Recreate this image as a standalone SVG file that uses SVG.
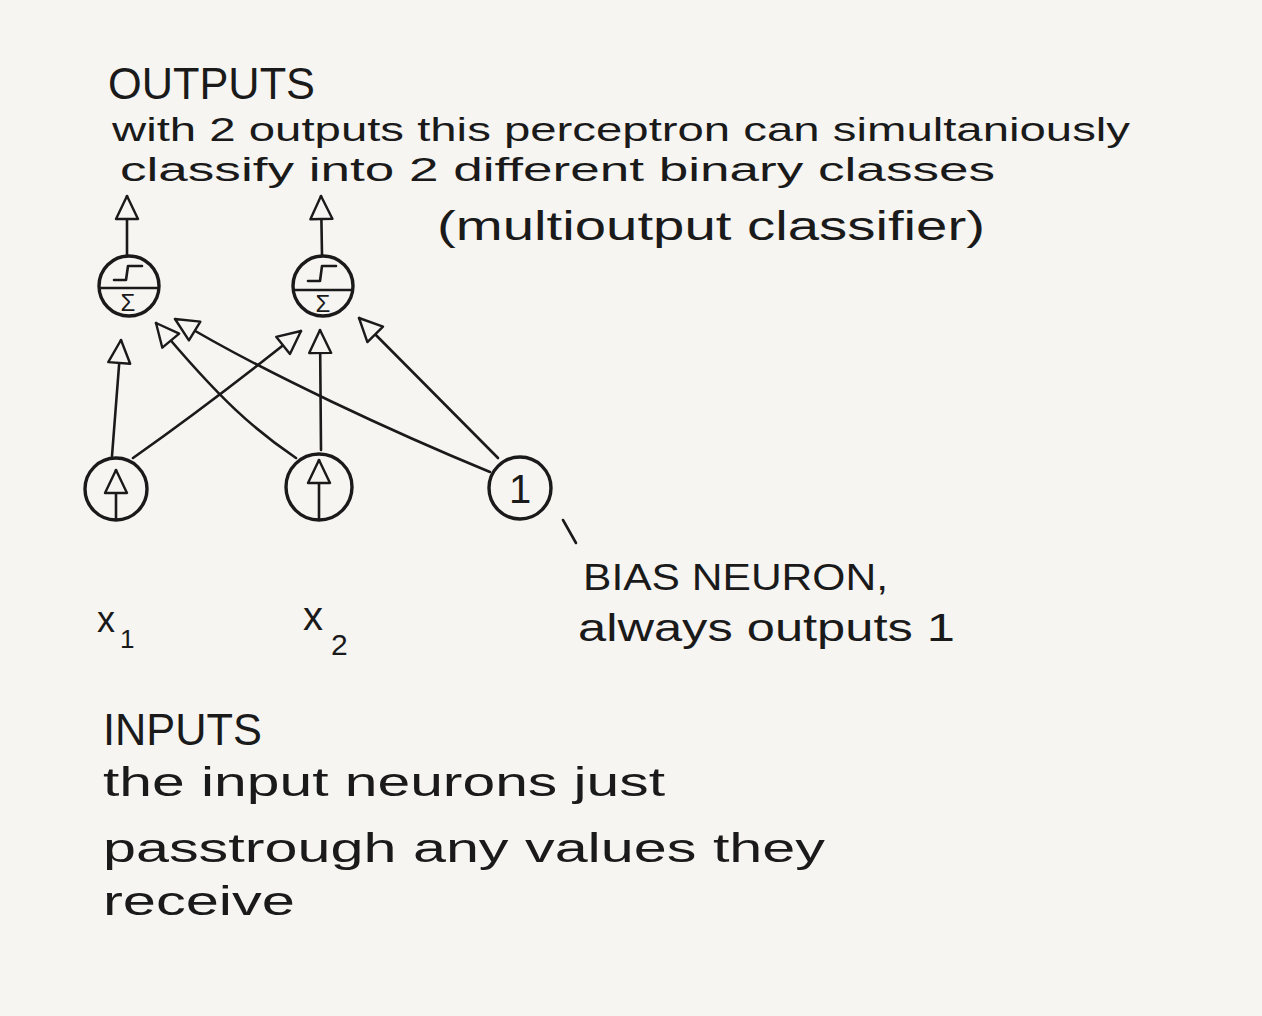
<svg xmlns="http://www.w3.org/2000/svg" width="1262" height="1016" viewBox="0 0 1262 1016">
<style>
.s{fill:none;stroke:#1a1a1a;stroke-width:2.6;stroke-linecap:round;stroke-linejoin:round}
.n{fill:none;stroke:#1a1a1a;stroke-width:3.4}
.t{font-family:"Liberation Sans","DejaVu Sans",sans-serif;fill:#1a1a1a}
</style>
<defs>
<marker id="ah" viewBox="0 0 26 26" refX="25" refY="13" markerWidth="26" markerHeight="26" markerUnits="userSpaceOnUse" orient="auto">
<path d="M2,2 L25,13 L2,24 Z" fill="#f6f5f2" stroke="#1a1a1a" stroke-width="2.4" stroke-linejoin="round"/>
</marker>
</defs>
<rect width="1262" height="1016" fill="#f6f5f2"/>

<g id="connectors">
<path class="s" d="M127,255 L127,196" marker-end="url(#ah)"/>
<path class="s" d="M322,255 L321,196" marker-end="url(#ah)"/>
<path class="s" d="M112,456 L121,340" marker-end="url(#ah)"/>
<path class="s" d="M133,458 Q215,400 301,331" marker-end="url(#ah)"/>
<path class="s" d="M296,458 C255,430 222,402 156,323" marker-end="url(#ah)"/>
<path class="s" d="M321,450 L320,330" marker-end="url(#ah)"/>
<path class="s" d="M490,472 C400,435 262,372 175,319" marker-end="url(#ah)"/>
<path class="s" d="M498,458 L359,318" marker-end="url(#ah)"/>
<path class="s" d="M563,520 L576,543"/>
</g>

<g id="out1">
<circle class="n" cx="129" cy="286" r="30"/>
<line class="s" x1="100" y1="288" x2="158" y2="288"/>
<path class="s" d="M114,280 L126,280 L128,266 L142,266"/>
<text class="t" x="128" y="311" font-size="24" text-anchor="middle">Σ</text>
</g>
<g id="out2">
<circle class="n" cx="323" cy="286" r="30"/>
<line class="s" x1="295" y1="290" x2="351" y2="290"/>
<path class="s" d="M308,281 L320,281 L322,266 L336,266"/>
<text class="t" x="323" y="312" font-size="24" text-anchor="middle">Σ</text>
</g>

<g id="in1">
<circle class="n" cx="116" cy="489" r="31"/>
<path class="s" d="M116,519 L116,470" marker-end="url(#ah)"/>
</g>
<g id="in2">
<circle class="n" cx="319" cy="487" r="33"/>
<path class="s" d="M319,519 L319,460" marker-end="url(#ah)"/>
</g>
<g id="bias">
<circle class="n" cx="520" cy="488" r="31"/>
<text class="t" x="520" y="503" font-size="40" text-anchor="middle">1</text>
</g>

<g id="labels">
<text class="t" x="108" y="99" font-size="44" textLength="207" lengthAdjust="spacingAndGlyphs">OUTPUTS</text>
<text class="t" x="112" y="141" font-size="34" textLength="1018" lengthAdjust="spacingAndGlyphs">with 2 outputs this perceptron can simultaniously</text>
<text class="t" x="120" y="181" font-size="34" textLength="875" lengthAdjust="spacingAndGlyphs">classify into 2 different binary classes</text>
<text class="t" x="437" y="240" font-size="40" textLength="548" lengthAdjust="spacingAndGlyphs">(multioutput classifier)</text>
<text class="t" x="97" y="632" font-size="36">x<tspan x="120" y="648" font-size="26">1</tspan></text>
<text class="t" x="303" y="630" font-size="40">x<tspan x="331" y="655" font-size="30">2</tspan></text>
<text class="t" x="583" y="590" font-size="36" textLength="305" lengthAdjust="spacingAndGlyphs">BIAS NEURON,</text>
<text class="t" x="578" y="641" font-size="38" textLength="377" lengthAdjust="spacingAndGlyphs">always outputs 1</text>
<text class="t" x="103" y="745" font-size="44" textLength="159" lengthAdjust="spacingAndGlyphs">INPUTS</text>
<text class="t" x="103" y="796" font-size="40" textLength="562" lengthAdjust="spacingAndGlyphs">the input neurons just</text>
<text class="t" x="103" y="862" font-size="40" textLength="722" lengthAdjust="spacingAndGlyphs">passtrough any values they</text>
<text class="t" x="103" y="915" font-size="40" textLength="192" lengthAdjust="spacingAndGlyphs">receive</text>
</g>
</svg>
